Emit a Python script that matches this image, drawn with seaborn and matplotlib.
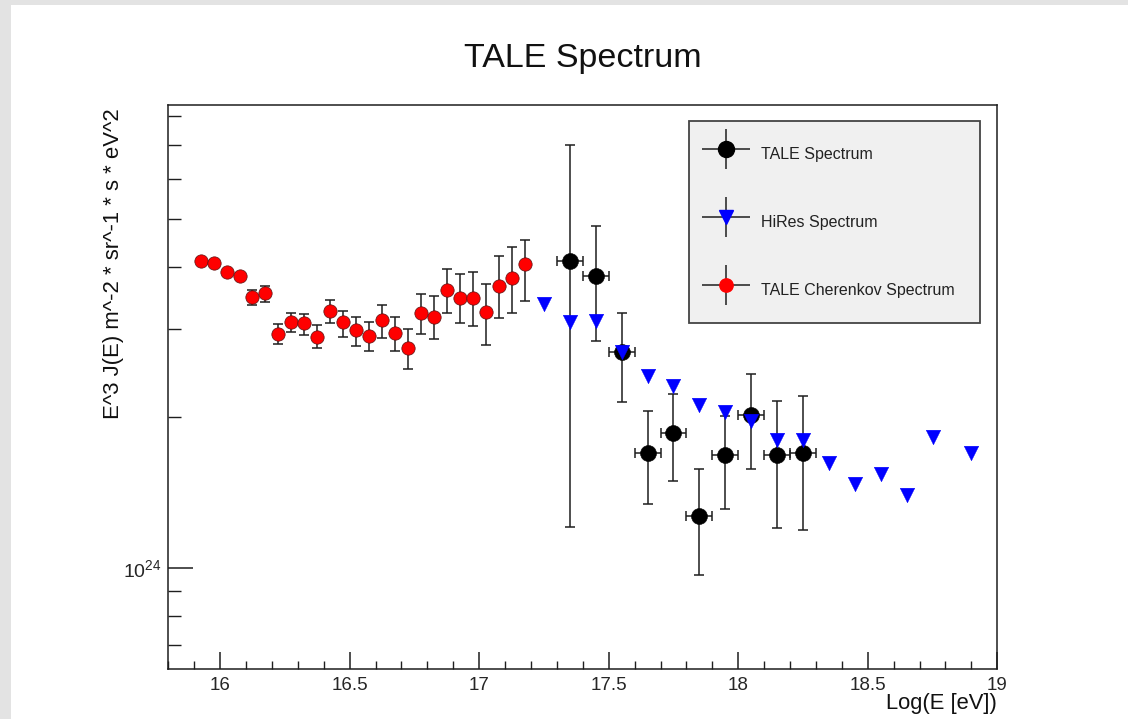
import numpy as np
import pandas as pd
import matplotlib
matplotlib.use("Agg")
import matplotlib.pyplot as plt
import matplotlib.ticker as mticker
from matplotlib.patches import Rectangle
from matplotlib.container import ErrorbarContainer
from matplotlib.legend_handler import HandlerErrorbar
import seaborn as sns

# ---------------- data (values in units of 1e24) ----------------
title = "TALE Spectrum"
xlabel = "Log(E [eV])"
ylabel = "E^3 J(E) m^-2 * sr^-1 * s * eV^2"
labels = ["TALE Spectrum", "HiRes Spectrum", "TALE Cherenkov Spectrum"]

red_x = [15.925, 15.975, 16.025, 16.075, 16.125, 16.175, 16.225, 16.275, 16.325,
         16.375, 16.425, 16.475, 16.525, 16.575, 16.625, 16.675, 16.725, 16.775,
         16.825, 16.875, 16.925, 16.975, 17.025, 17.075, 17.125, 17.175]
red_y = [4.12, 4.08, 3.90, 3.84, 3.49, 3.54, 2.94, 3.10, 3.09, 2.90, 3.27, 3.11, 2.99,
         2.91, 3.13, 2.95, 2.75, 3.24, 3.18, 3.60, 3.46, 3.46, 3.25, 3.67, 3.80, 4.06]
red_lo = [4.07, 4.03, 3.85, 3.79, 3.36, 3.41, 2.81, 2.96, 2.93, 2.75, 3.09, 2.90, 2.78,
          2.72, 2.88, 2.72, 2.50, 2.94, 2.87, 3.24, 3.09, 3.05, 2.79, 3.16, 3.24, 3.42]
red_hi = [4.17, 4.13, 3.95, 3.89, 3.60, 3.67, 3.08, 3.24, 3.22, 3.06, 3.44, 3.27, 3.18,
          3.11, 3.35, 3.18, 3.00, 3.53, 3.50, 3.97, 3.87, 3.90, 3.69, 4.20, 4.38, 4.53]

black_x = [17.35, 17.45, 17.55, 17.65, 17.75, 17.85, 17.95, 18.05, 18.15, 18.25]
black_y = [4.12, 3.83, 2.70, 1.70, 1.86, 1.27, 1.68, 2.02, 1.68, 1.70]
black_lo = [1.21, 2.84, 2.15, 1.34, 1.49, 0.97, 1.31, 1.58, 1.20, 1.19]
black_hi = [7.03, 4.82, 3.24, 2.06, 2.23, 1.58, 2.01, 2.44, 2.16, 2.21]
black_xerr = 0.05

blue_x = [17.25, 17.35, 17.45, 17.55, 17.65, 17.75, 17.85, 17.95, 18.05, 18.15,
          18.25, 18.35, 18.45, 18.55, 18.65, 18.75, 18.90]
blue_y = [3.38, 3.10, 3.12, 2.71, 2.42, 2.31, 2.12, 2.05, 1.97, 1.80, 1.80, 1.62,
          1.47, 1.54, 1.40, 1.83, 1.70]

SCALE = 1e24

red = pd.DataFrame({"x": red_x, "y": np.array(red_y) * SCALE,
                    "lo": np.array(red_lo) * SCALE, "hi": np.array(red_hi) * SCALE})
black = pd.DataFrame({"x": black_x, "y": np.array(black_y) * SCALE,
                      "lo": np.array(black_lo) * SCALE, "hi": np.array(black_hi) * SCALE})
blue = pd.DataFrame({"x": blue_x, "y": np.array(blue_y) * SCALE})

# ---------------- style ----------------
sns.set_theme(style="ticks")
plt.rcParams["font.family"] = ["Liberation Sans", "DejaVu Sans"]
plt.rcParams["axes.unicode_minus"] = False

W, H = 1128, 719
fig = plt.figure(figsize=(W / 100, H / 100), dpi=100)
fig.patch.set_facecolor("white")
# grey frame strips (top and left)
fig.patches.append(Rectangle((0, 1 - 5 / H), 1, 5 / H, transform=fig.transFigure,
                             facecolor="#e3e3e3", edgecolor="none", zorder=0))
fig.patches.append(Rectangle((0, 0), 11 / W, 1, transform=fig.transFigure,
                             facecolor="#e3e3e3", edgecolor="none", zorder=0))

ax_l, ax_r, ax_t, ax_b = 168.3, 997.3, 105, 669
ax = fig.add_axes([ax_l / W, 1 - ax_b / H, (ax_r - ax_l) / W, (ax_b - ax_t) / H])
ax.set_facecolor("white")

ecol = "#1e1e1e"
# red: TALE Cherenkov
ax.errorbar(red["x"], red["y"], yerr=[red["y"] - red["lo"], red["hi"] - red["y"]],
            fmt="none", ecolor=ecol, elinewidth=1.1, capsize=3.5, capthick=1.1, zorder=2)
sns.scatterplot(data=red, x="x", y="y", ax=ax, marker="o", s=9.6 ** 2, color="#ff0000",
                edgecolor="#5a1010", linewidth=0.5, zorder=3, legend=False)
# black: TALE
ax.errorbar(black["x"], black["y"], xerr=black_xerr,
            yerr=[black["y"] - black["lo"], black["hi"] - black["y"]],
            fmt="none", ecolor=ecol, elinewidth=1.1, capsize=3.5, capthick=1.1, zorder=4)
sns.scatterplot(data=black, x="x", y="y", ax=ax, marker="o", s=11.5 ** 2, color="black",
                edgecolor="black", linewidth=0.4, zorder=5, legend=False)
# blue: HiRes
sns.scatterplot(data=blue, x="x", y="y", ax=ax, marker="v", s=10.5 ** 2, color="#0000ff",
                edgecolor="#0000ff", linewidth=0.3, zorder=6, legend=False)

# ---------------- axes ----------------
ax.set_yscale("log")
ax.set_xlim(15.8, 19.0)
ax.set_ylim(10 ** (24 - (ax_b - 568) / 500), 10 ** (24 + (568 - ax_t) / 500))
ax.xaxis.set_major_locator(mticker.MultipleLocator(0.5))
ax.xaxis.set_minor_locator(mticker.MultipleLocator(0.1))
ax.xaxis.set_major_formatter(mticker.FuncFormatter(lambda v, p: f"{v:g}"))
ax.yaxis.set_major_locator(mticker.LogLocator(base=10, subs=(1.0,)))
ax.yaxis.set_minor_locator(mticker.LogLocator(base=10, subs=np.arange(2, 10)))
ax.yaxis.set_minor_formatter(mticker.NullFormatter())

for s in ["left", "bottom", "right", "top"]:
    ax.spines[s].set_color(ecol)
    ax.spines[s].set_linewidth(1.1)

ax.tick_params(axis="x", which="major", direction="in", length=12, width=1.1,
               color=ecol, labelsize=13.5, pad=6, top=False)
ax.tick_params(axis="x", which="minor", direction="in", length=6, width=1.0,
               color=ecol, top=False)
ax.tick_params(axis="y", which="major", direction="in", length=18, width=1.1,
               color=ecol, labelsize=14, pad=5, right=False)
ax.tick_params(axis="y", which="minor", direction="in", length=9.5, width=1.0,
               color=ecol, right=False)

ax.set_xlabel(xlabel, fontsize=15.8, color="#111111", ha="right")
ax.xaxis.set_label_coords(1.0, -0.043)
ax.set_ylabel(ylabel, fontsize=15.9, color="#111111", ha="right")
ax.yaxis.set_label_coords(-0.054, 0.995)

fig.text((ax_l + ax_r) / 2 / W, 1 - 59 / H, title, ha="center", va="center",
         fontsize=24.5, color="#111111")

# ---------------- legend ----------------
h_tale = ax.errorbar([], [], xerr=[], yerr=[], fmt="o", color="black", ms=11.5,
                     ecolor=ecol, elinewidth=1.1, capsize=0)
h_hires = ax.errorbar([], [], xerr=[], yerr=[], fmt="v", color="#0000ff", ms=10.5,
                      ecolor=ecol, elinewidth=1.1, capsize=0)
h_cher = ax.errorbar([], [], xerr=[], yerr=[], fmt="o", color="#ff0000", ms=9.6,
                     ecolor=ecol, elinewidth=1.1, capsize=0)
lx0 = (689 - ax_l) / (ax_r - ax_l)
lx1 = (980 - ax_l) / (ax_r - ax_l)
ly1 = (ax_b - 121) / (ax_b - ax_t)
leg = ax.legend([h_tale, h_hires, h_cher], labels,
                loc="upper left", bbox_to_anchor=(lx0, ly1 - 0.5, lx1 - lx0, 0.5),
                mode="expand", fontsize=11.5, frameon=True, fancybox=False,
                facecolor="#f0f0f0", edgecolor="#444444", framealpha=1,
                handlelength=2.3, handleheight=2.5, handletextpad=1.05,
                labelspacing=2.38, borderpad=1.15, borderaxespad=0,
                handler_map={ErrorbarContainer: HandlerErrorbar(xerr_size=1.5, yerr_size=1.25)})
leg.get_frame().set_linewidth(1.3)
for t in leg.get_texts():
    t.set_color("#222222")

fig.savefig("out.png", dpi=100)
